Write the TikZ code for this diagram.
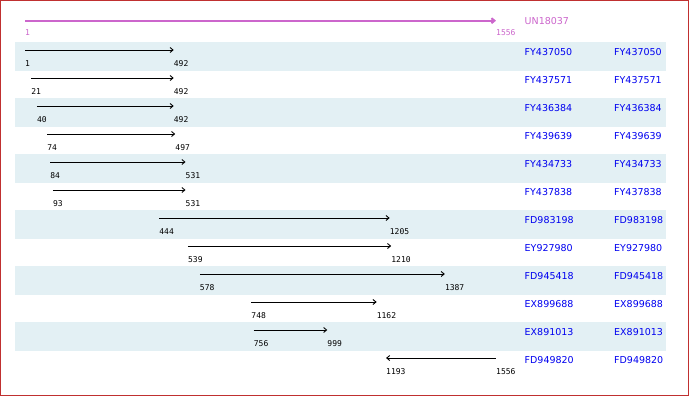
\documentclass[tikz,border=0pt]{standalone}
\usepackage{fontspec}
\setmainfont{DejaVu Sans}
\newfontfamily\numfont{DejaVu Sans Mono}
\usetikzlibrary{arrows.meta}
\definecolor{framered}{HTML}{C03030}
\definecolor{bandblue}{HTML}{E3F0F4}
\definecolor{topviolet}{HTML}{CC66CC}
\definecolor{namblue}{HTML}{0000F0}
\tikzset{
  band/.style={fill=bandblue, draw=none},
  hitarrow/.style={draw=black, line width=0.9pt, -{Straight Barb[length=3pt,width=5pt]}},
  poslabel/.style={anchor=west, inner sep=0pt, font=\numfont\fontsize{8}{8}\selectfont},
  namelabel/.style={anchor=west, inner sep=0pt, font=\fontsize{9.5}{10}\selectfont, text=namblue},
}
\newcommand{\px}[1]{25+(#1-1)*0.302894}
\begin{document}
\begin{tikzpicture}[x=1pt,y=-1pt]
\useasboundingbox (0,0) rectangle (690,396);
\fill[white] (0,0) rectangle (690,396);
% bands
\foreach \k in {0,2,4,6,8,10}{
  \fill[band] (15,{42+28*\k}) rectangle (666,{71+28*\k});
}
% frame
\draw[framered, line width=1.4pt] (0.7,0.7) rectangle (688.7,395.3);
% top query
\coordinate (qs) at ({\px{1}},20.7);
\coordinate (qe) at ({\px{1556}},20.7);
\draw[topviolet, line width=2pt, -{Straight Barb[length=3pt,width=5pt]}] (qs) -- (qe);
\node[poslabel, text=topviolet] (qsl) at ({\px{1}},33) {1};
\node[poslabel, text=topviolet] (qel) at ({\px{1556}},33) {1556};
\node[namelabel, text=topviolet] (qname) at (524.5,21.5) {UN18037};
% hits
\foreach [count=\i from 0] \a/\b/\nm in {
  1/492/FY437050, 21/492/FY437571, 40/492/FY436384, 74/497/FY439639,
  84/531/FY434733, 93/531/FY437838, 444/1205/FD983198, 539/1210/EY927980,
  578/1387/FD945418, 748/1162/EX899688, 756/999/EX891013, 1556/1193/FD949820}{
  \coordinate (s\i) at ({\px{\a}},{50+28*\i});
  \coordinate (e\i) at ({\px{\b}},{50+28*\i});
  \draw[hitarrow] (s\i) -- (e\i);
  \pgfmathtruncatemacro{\lo}{min(\a,\b)}
  \pgfmathtruncatemacro{\hi}{max(\a,\b)}
  \node[poslabel] (l\i) at ({\px{\lo}},{63.5+28*\i}) {\lo};
  \node[poslabel] (h\i) at ({\px{\hi}},{63.5+28*\i}) {\hi};
  \node[namelabel] (n\i) at (524.5,{51.7+28*\i}) {\nm};
  \node[namelabel] (m\i) at (614,{51.7+28*\i}) {\nm};
}
\end{tikzpicture}
\end{document}
